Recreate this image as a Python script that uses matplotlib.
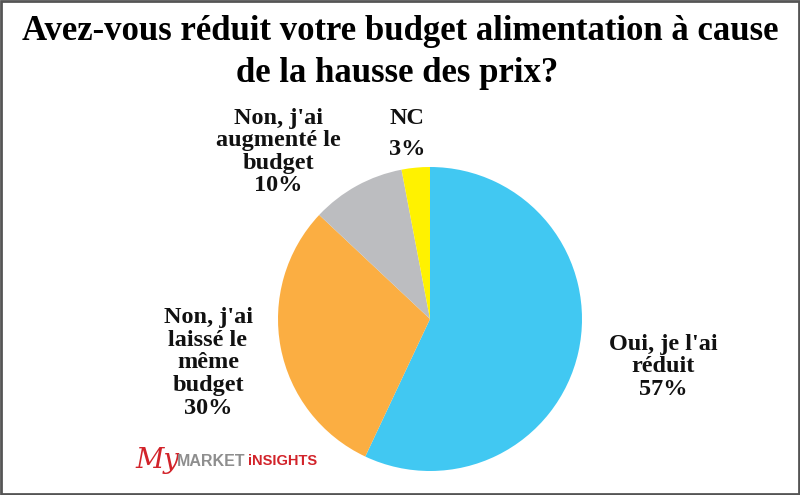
import matplotlib.pyplot as plt
from matplotlib.patches import Rectangle

# données du sondage
categories = ["Oui, je l'ai\nréduit", "Non, j'ai\nlaissé le\nmême\nbudget",
              "Non, j'ai\naugmenté le\nbudget", "NC"]
values = [57, 30, 10, 3]
colors = ['#41C8F2', '#FBAE42', '#BCBDC0', '#FFF200']
title = "Avez-vous réduit votre budget alimentation à cause\nde la hausse des prix?"

W, H = 800, 495
fig = plt.figure(figsize=(8, 4.95), dpi=100)
ax = fig.add_axes([0, 0, 1, 1])

# camembert, sens horaire depuis le haut
ax.pie(values, colors=colors, startangle=90, counterclock=False,
       center=(430, H - 319), radius=152, frame=True)
ax.set_xlim(0, W)
ax.set_ylim(0, H)
ax.set_aspect('equal')
ax.axis('off')

serif = 'Liberation Serif'

# titre
ax.text(W / 2, H - 31, title.split('\n')[0], ha='center', va='center',
        fontsize=25, fontweight='bold', family=serif)
ax.text(397, H - 73, title.split('\n')[1], ha='center', va='center',
        fontsize=25, fontweight='bold', family=serif)

# étiquettes
label_pos = [(663, 367), (208, 363), (278, 152), (407, 134)]
spacing = [1.1, 1.1, 1.1, 1.65]
for cat, v, (x, y), ls in zip(categories, values, label_pos, spacing):
    ax.text(x, H - y, f"{cat}\n{v}%", ha='center', va='center',
            fontsize=17.5, fontweight='bold', family=serif, linespacing=ls,
            color='#111111')

# logo
ax.text(135, H - 461, "My", ha='left', va='center', fontsize=20,
        style='italic', color='#D2232A', family='DejaVu Serif')
ax.text(245, H - 461, "MARKET", ha='right', va='center', fontsize=11.5,
        fontweight='bold', color='#8E8E8E', family='Liberation Sans')
ax.text(248, H - 461, "iNSIGHTS", ha='left', va='center', fontsize=10.5,
        fontweight='bold', color='#D2232A', family='Liberation Sans')

# cadre
ax.add_patch(Rectangle((1, 1), W - 2, H - 2, fill=False, edgecolor='#555555',
                       linewidth=2))

fig.savefig('out.png', dpi=100)
